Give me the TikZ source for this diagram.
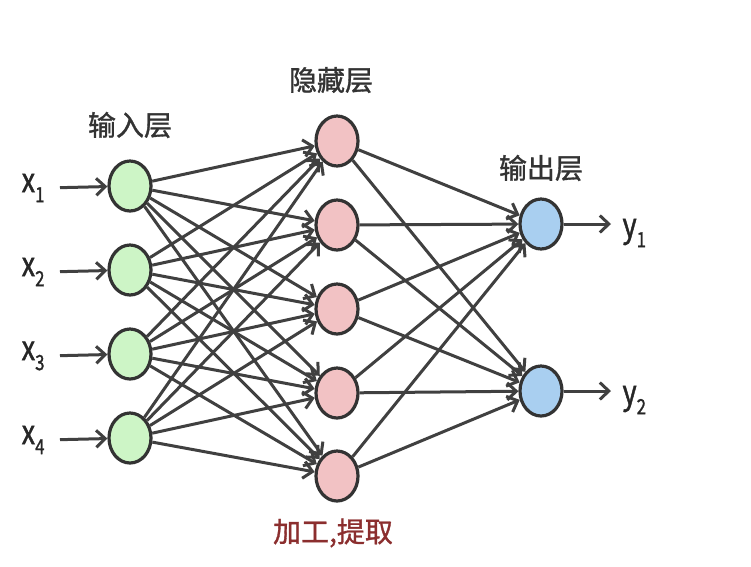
\documentclass[tikz,border=0pt]{standalone}
\usepackage{fontspec}
\newfontfamily\cjk[FakeBold=1.2]{Noto Sans CJK SC}
\newfontfamily\varfont[FakeStretch=0.8,FakeBold=1.2]{Noto Sans CJK SC}
\usetikzlibrary{arrows.meta,shapes.geometric}

\definecolor{edgegray}{HTML}{404040}
\definecolor{ingreen}{HTML}{CDF5C6}
\definecolor{hidpink}{HTML}{F2C2C4}
\definecolor{outblue}{HTML}{A9CFF0}
\definecolor{notered}{HTML}{8B2E2E}

\tikzset{
	unit/.style={ellipse,draw=black!80,line width=3.2pt,minimum width=42pt,minimum height=50pt,inner sep=0pt},
	layertext/.style={font=\cjk\fontsize{28}{32}\selectfont,text=black!80},
	vartext/.style={font=\varfont\fontsize{34}{36}\selectfont,text=black!85,inner sep=0pt}
}

\begin{document}
\begin{tikzpicture}[x=1pt,y=-1pt,>={Straight Barb[length=9pt,width=17pt]},line width=3pt]
				\useasboundingbox (0,0) rectangle (751,566);

				% input layer
				\node[unit,fill=ingreen] (in1) at (130, 186) {};
				\node[unit,fill=ingreen] (in2) at (130, 270) {};
				\node[unit,fill=ingreen] (in3) at (130, 354) {};
				\node[unit,fill=ingreen] (in4) at (130, 438) {};

				% hidden layer
				\node[unit,fill=hidpink] (hid1) at (337, 141) {};
				\node[unit,fill=hidpink] (hid2) at (337, 225) {};
				\node[unit,fill=hidpink] (hid3) at (337, 309) {};
				\node[unit,fill=hidpink] (hid4) at (337, 393) {};
				\node[unit,fill=hidpink] (hid5) at (337, 476) {};

				% output layer
				\node[unit,fill=outblue] (out1) at (541, 224) {};
				\node[unit,fill=outblue] (out2) at (541, 391) {};

				\foreach \i in {1,...,4}
					\foreach \j in {1,...,5}
						\draw[->,draw=edgegray] (in\i) -- (hid\j);
				\foreach \j in {1,...,5}
					\foreach \k in {1,2}
						\draw[->,draw=edgegray] (hid\j) -- (out\k);

				% inputs and outputs
				\node[vartext,anchor=east] (x1) at (46, 188) {x\raisebox{-10pt}{\fontsize{21}{22}\selectfont 1}};
				\node[vartext,anchor=east] (x2) at (46, 272) {x\raisebox{-10pt}{\fontsize{21}{22}\selectfont 2}};
				\node[vartext,anchor=east] (x3) at (46, 356) {x\raisebox{-10pt}{\fontsize{21}{22}\selectfont 3}};
				\node[vartext,anchor=east] (x4) at (46, 440) {x\raisebox{-10pt}{\fontsize{21}{22}\selectfont 4}};
				\node[vartext,anchor=west] (y1) at (621, 233) {y\raisebox{-10pt}{\fontsize{21}{22}\selectfont 1}};
				\node[vartext,anchor=west] (y2) at (621, 400) {y\raisebox{-10pt}{\fontsize{21}{22}\selectfont 2}};

				\draw[->,draw=edgegray,shorten <=14pt] (x1.east) -- (in1);
				\draw[->,draw=edgegray,shorten <=14pt] (x2.east) -- (in2);
				\draw[->,draw=edgegray,shorten <=14pt] (x3.east) -- (in3);
				\draw[->,draw=edgegray,shorten <=14pt] (x4.east) -- (in4);
				\draw[->,draw=edgegray,shorten >=10pt] (out1) -- (out1 -| y1.west);
				\draw[->,draw=edgegray,shorten >=10pt] (out2) -- (out2 -| y2.west);

				% layer names
				\node[layertext] (inname) at (130, 125) {输入层};
				\node[layertext] (hidname) at (331, 80) {隐藏层};
				\node[layertext] (outname) at (541, 168) {输出层};
				\node[layertext,text=notered] (hidnote) at (333, 533) {加工,提取};
			\end{tikzpicture}
\end{document}
